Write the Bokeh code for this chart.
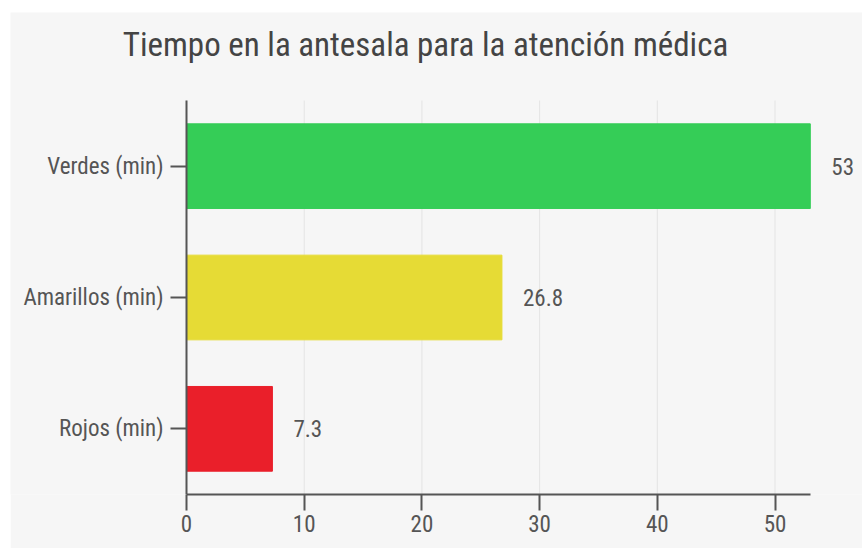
from bokeh.plotting import figure
from bokeh.models import ColumnDataSource, LabelSet, FixedTicker, Range1d, Label
from bokeh.core.properties import value
from bokeh.embed import file_html
from bokeh.resources import INLINE

categories = ["Verdes (min)", "Amarillos (min)", "Rojos (min)"]
values = [53, 26.8, 7.3]
labels = ["53", "26.8", "7.3"]
colors = ["#35cd57", "#e6db35", "#ea1f2a"]
x_ticks = [0, 10, 20, 30, 40, 50]
title = "Tiempo en la antesala para la atención médica"

FONT = "Roboto Condensed"
BG = "#f6f6f6"

n = len(categories)
ypos = [n - i for i in range(n)]          # Verdes on top
y_lo, y_hi = 0.5, n + 0.5
x_max = 53
PX_X = 11.77    # pixels per minute
PX_Y = 131.33   # pixels per category

src = ColumnDataSource(dict(y=ypos, val=values, lab=labels, col=colors))

p = figure(
    x_range=Range1d(-176 / PX_X, 676 / PX_X),
    y_range=Range1d(y_lo, y_hi + 88 / PX_Y),
    width=852, height=536,
    output_backend="svg", toolbar_location=None,
    background_fill_color=BG, border_fill_color=BG,
    min_border_left=0, min_border_right=0,
    min_border_top=0, min_border_bottom=54,
    outline_line_color=None,
    margin=(12, 0, 0, 10),
)

# vertical grid lines limited to the axis span
p.segment(x0=x_ticks, y0=[y_lo] * len(x_ticks), x1=x_ticks, y1=[y_hi] * len(x_ticks),
          line_color="#e4e4e4", line_width=1)

p.hbar(y="y", right="val", left=0, height=0.645, color="col", source=src)

p.add_layout(LabelSet(x="val", y="y", text="lab", source=src,
                      x_offset=21, text_baseline="middle",
                      text_font=value(FONT), text_font_size="23px",
                      text_color="#555555"))

p.add_layout(Label(x=415, y=450, x_units="screen", y_units="screen",
                   text=title, text_align="center", text_baseline="middle",
                   text_font=FONT, text_font_size="33px",
                   text_color="#444444"))

p.xaxis.ticker = FixedTicker(ticks=x_ticks)
p.xaxis.bounds = (0, x_max)
p.yaxis.ticker = FixedTicker(ticks=ypos)
p.yaxis.bounds = (y_lo, y_hi)
p.yaxis.fixed_location = 0
p.yaxis.major_label_overrides = {y: c for y, c in zip(ypos, categories)}
for ax in (p.xaxis[0], p.yaxis[0]):
    ax.axis_line_color = "#555555"
    ax.axis_line_width = 2
    ax.major_tick_line_color = "#555555"
    ax.major_tick_line_width = 2
    ax.major_tick_out = 16
    ax.major_tick_in = 0
    ax.minor_tick_line_color = None
    ax.major_label_text_font = FONT
    ax.major_label_text_font_size = "23px"
    ax.major_label_text_color = "#555555"
p.yaxis.major_label_standoff = 7
p.xaxis.major_label_standoff = 4

p.grid.grid_line_color = None

open("out.html", "w").write(file_html(p, INLINE))
